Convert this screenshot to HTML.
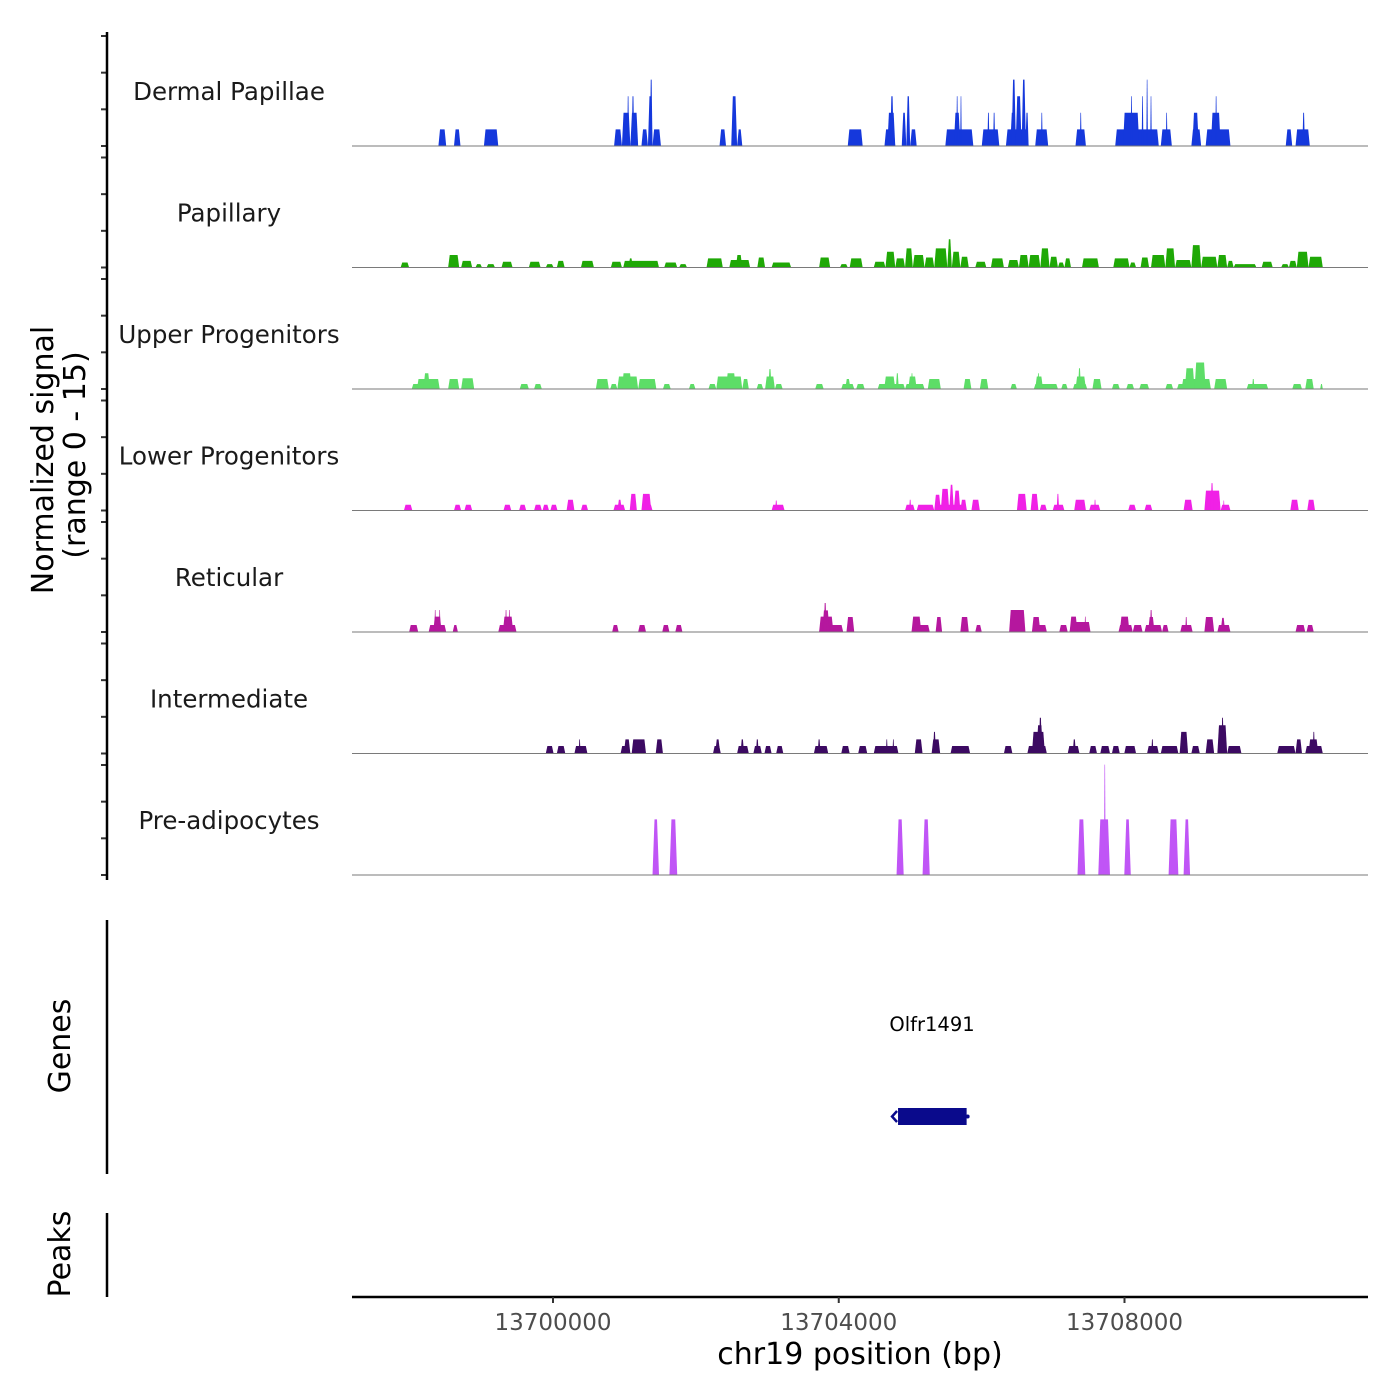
<!DOCTYPE html>
<html><head><meta charset="utf-8"><style>
html,body{margin:0;padding:0;background:#fff;}
svg{display:block;font-family:"DejaVu Sans","Liberation Sans",sans-serif;}
</style></head><body>
<svg id="chart" width="1400" height="1400" viewBox="0 0 1400 1400" xmlns="http://www.w3.org/2000/svg">
<rect x="0" y="0" width="1400" height="1400" fill="#fff"/>
<g id="tracks"></g>
<g id="axes"></g>
<text transform="translate(53,460) rotate(-90)" text-anchor="middle" font-size="30" fill="#000">Normalized signal</text>
<text transform="translate(85,455) rotate(-90)" text-anchor="middle" font-size="30" fill="#000">(range 0 - 15)</text>
<text transform="translate(70,1046) rotate(-90)" text-anchor="middle" font-size="30" fill="#000">Genes</text>
<text transform="translate(70,1254) rotate(-90)" text-anchor="middle" font-size="30" fill="#000">Peaks</text>
<line x1="107" y1="920" x2="107" y2="1174" stroke="#000" stroke-width="2.5"/>
<line x1="107" y1="1213" x2="107" y2="1297" stroke="#000" stroke-width="2.5"/>
<text x="932" y="1031" text-anchor="middle" font-size="19.5" fill="#000">Olfr1491</text>
<g id="gene"></g>
<text x="860" y="1364" text-anchor="middle" font-size="30" fill="#000">chr19 position (bp)</text>
</svg>
<script>
const NS = "http://www.w3.org/2000/svg";
const trackNames = ["Dermal Papillae","Papillary","Upper Progenitors","Lower Progenitors","Reticular","Intermediate","Pre-adipocytes"];
const trackColors = ["#1538dc","#1fa806","#5ddd67","#f021e6","#b5179e","#3c0a62","#c055f6"];
const xTicks = [13700000,13704000,13708000];
const xTickLabels = ["13700000","13704000","13708000"];
const geneStart = 13704830, geneEnd = 13705790;

const dermalPapillae = [[13698396,13698505,2],[13698614,13698705,2],[13699033,13699234,2],
[13700855,13700965,2],[13700965,13701083,4],[13701038,13701065,6],[13701101,13701138,6],[13701083,13701192,4],
[13701238,13701329,2],[13701329,13701393,6],[13701356,13701393,8],[13701393,13701511,2],
[13702331,13702422,2],[13702495,13702577,6],[13702577,13702650,2],
[13704126,13704335,2],[13704640,13704791,2],[13704680,13704791,4],[13704720,13704770,6],
[13704882,13704946,4],[13704946,13705000,6],[13705000,13705091,2],
[13705492,13705884,2],[13705611,13705702,4],[13705645,13705670,6],[13705700,13705722,6],
[13706002,13706248,2],[13706080,13706110,4],[13706160,13706190,4],
[13706340,13706658,2],[13706400,13706476,4],[13706420,13706480,8],[13706476,13706560,6],[13706560,13706620,8],[13706613,13706658,4],
[13706750,13706932,2],[13706830,13706855,4],[13707314,13707460,2],[13707375,13707400,4],
[13707870,13708480,2],[13707979,13708207,4],[13708085,13708110,6],[13708240,13708265,6],[13708305,13708328,8],[13708360,13708382,6],
[13708508,13708663,2],[13708578,13708602,4],[13708936,13709073,2],[13708950,13709040,4],
[13709136,13709483,2],[13709209,13709346,4],[13709270,13709295,6],
[13710257,13710348,2],[13710394,13710594,2],[13710490,13710525,4]];

const papillary = [[13697867,13697986,0.6],[13698532,13698687,1.5],[13698714,13698869,0.8],[13698915,13699006,0.4],[13699070,13699188,0.4],
[13699279,13699434,0.7],[13699662,13699826,0.7],[13699899,13700008,0.4],[13700054,13700163,0.8],[13700391,13700573,0.8],
[13700810,13700965,0.7],[13700983,13701484,0.8],[13701056,13701120,1.1],[13701557,13701739,0.6],[13701766,13701876,0.4],
[13702149,13702377,1.1],[13702468,13702759,0.9],[13702559,13702650,1.5],[13702860,13702969,1.2],[13703060,13703333,0.6],
[13703725,13703880,1.2],[13704017,13704126,0.4],[13704153,13704335,1.1],
[13704490,13704654,0.7],[13704654,13704791,1.9],[13704791,13704928,1.1],[13704928,13705037,2.3],[13705037,13705201,1.5],
[13705201,13705337,1.2],[13705337,13705520,2.3],[13705520,13705583,3.4],[13705583,13705702,1.9],[13705702,13705820,1.3],
[13705911,13706066,0.7],[13706130,13706312,1.1],[13706367,13706522,0.9],[13706522,13706658,1.5],[13706658,13706822,1.5],
[13706822,13706950,2.3],[13706950,13707068,1.3],[13707068,13707159,0.6],[13707159,13707251,1.1],[13707405,13707642,1.1],
[13707843,13708070,1.1],[13708070,13708162,0.6],[13708225,13708344,1.2],[13708371,13708572,1.5],[13708572,13708708,2.3],
[13708708,13708936,0.9],[13708936,13709073,2.7],[13709073,13709300,1.3],[13709300,13709437,1.5],[13709437,13709528,0.8],
[13709528,13709847,0.4],[13709920,13710075,0.7],[13710193,13710302,0.4],[13710302,13710412,0.8],[13710412,13710576,1.9],[13710576,13710776,1.3]];

const upperProgenitors = [[13698022,13698414,0.6],[13698095,13698414,1.2],[13698186,13698277,1.9],[13698532,13698687,1.2],[13698714,13698897,1.3],
[13699534,13699662,0.6],[13699735,13699844,0.6],[13700600,13700782,1.2],[13700801,13700901,0.6],[13700901,13701192,1.5],
[13700965,13701101,1.9],[13701192,13701447,1.2],[13701539,13701648,0.6],[13701903,13701994,0.6],
[13702176,13702286,0.6],[13702286,13702650,1.5],[13702422,13702559,1.9],[13702650,13702741,1.2],[13702850,13702942,0.6],
[13702969,13703106,1.5],[13703014,13703060,2.4],[13703106,13703215,0.6],[13703670,13703789,0.6],
[13704035,13704217,0.6],[13704090,13704165,1.2],[13704244,13704363,0.6],
[13704545,13704928,0.6],[13704636,13704791,1.5],[13704800,13704840,1.9],[13704928,13705201,0.6],[13704973,13705091,1.5],[13705010,13705040,1.9],
[13705246,13705429,1.2],[13705747,13705857,1.2],[13705975,13706094,1.2],[13706403,13706494,0.6],
[13706731,13707068,0.6],[13706750,13706859,1.5],[13706780,13706810,1.9],[13707114,13707205,0.6],
[13707278,13707478,0.6],[13707314,13707460,1.5],[13707350,13707390,2.5],[13707551,13707679,1.2],[13707824,13707934,0.6],
[13708025,13708134,0.6],[13708207,13708344,0.6],[13708572,13708681,0.6],
[13708735,13709209,0.6],[13708799,13709209,1.2],[13708845,13708981,2.5],[13708981,13709136,3.2],
[13709255,13709437,1.2],[13709710,13710011,0.6],[13709785,13709820,1.2],[13710348,13710485,0.6],[13710530,13710649,1.2],[13710739,13710776,0.6]];

const lowerProgenitors = [[13697913,13698031,0.7],[13698614,13698714,0.7],[13698760,13698869,0.7],[13699307,13699416,0.7],[13699525,13699625,0.7],
[13699735,13699844,0.7],[13699853,13699944,0.7],[13699963,13700063,0.7],[13700190,13700300,1.3],[13700391,13700491,0.7],
[13700846,13701010,0.7],[13700901,13700965,1.3],[13701074,13701174,2.0],[13701238,13701393,0.7],[13701238,13701375,2.0],
[13703060,13703242,0.7],[13703110,13703140,1.2],[13704928,13705064,0.7],[13704985,13705015,1.3],[13705091,13705337,0.7],
[13705337,13705793,0.7],[13705337,13705429,1.9],[13705429,13705547,2.6],[13705547,13705611,3.1],[13705611,13705702,2.4],[13705702,13705793,1.3],
[13705857,13705975,1.3],[13706494,13706631,2.0],[13706686,13706795,2.0],[13706813,13706913,0.7],
[13706995,13707159,0.7],[13707050,13707085,2.0],[13707296,13707460,1.3],[13707506,13707661,0.7],[13707575,13707600,1.3],
[13708052,13708162,0.7],[13708280,13708389,0.7],[13708827,13708954,1.3],
[13709118,13709346,2.4],[13709205,13709245,3.3],[13709346,13709483,0.7],[13709380,13709400,1.2],
[13710321,13710439,1.3],[13710558,13710667,1.3]];

const reticular = [[13697986,13698113,0.85],[13698259,13698505,0.85],[13698323,13698441,1.85],[13698340,13698362,2.65],[13698403,13698425,2.65],
[13698596,13698669,0.85],[13699234,13699489,0.85],[13699298,13699443,1.85],[13699330,13699355,2.65],[13699378,13699400,2.65],
[13700828,13700919,0.85],[13701192,13701302,0.85],[13701529,13701630,0.85],[13701712,13701812,0.85],
[13703725,13704062,0.85],[13703725,13703925,1.85],[13703770,13703870,2.6],[13703790,13703830,3.5],[13704108,13704217,1.8],
[13705019,13705274,0.85],[13705019,13705155,1.85],[13705356,13705447,1.8],[13705702,13705820,1.8],[13705911,13706002,0.85],
[13706385,13706613,2.65],[13706704,13706913,0.85],[13706704,13706822,1.8],[13707087,13707205,0.85],
[13707232,13707524,1.2],[13707232,13707342,1.85],[13707440,13707462,1.85],
[13707916,13708116,0.85],[13707934,13708070,1.85],[13708116,13708253,0.85],[13708280,13708526,0.85],[13708330,13708420,1.8],[13708355,13708390,2.65],
[13708526,13708617,0.85],[13708781,13708954,0.85],[13708850,13708878,1.8],[13709118,13709255,1.8],
[13709300,13709483,0.85],[13709346,13709410,1.7],[13710394,13710530,0.85],[13710548,13710649,0.85]];

const intermediate = [[13699899,13700008,0.9],[13700054,13700172,0.9],[13700300,13700482,0.9],[13700360,13700385,1.7],
[13700946,13701083,0.9],[13700992,13701083,1.7],[13701101,13701302,1.7],[13701438,13701539,1.7],
[13702240,13702349,0.9],[13702270,13702340,1.7],[13702577,13702741,0.9],[13702625,13702675,1.7],
[13702805,13702923,0.9],[13702840,13702880,1.7],[13702960,13703060,0.9],[13703124,13703224,0.9],
[13703652,13703853,0.9],[13703705,13703745,1.7],[13704035,13704153,0.9],[13704272,13704399,0.9],
[13704490,13704836,0.9],[13704660,13704685,1.7],[13704752,13704776,1.7],[13705064,13705173,1.7],
[13705300,13705420,1.7],[13705320,13705360,2.6],[13705565,13705839,0.9],[13706312,13706431,0.9],
[13706640,13706913,0.9],[13706704,13706886,2.6],[13706768,13706859,3.4],[13706800,13706845,4.3],
[13707205,13707369,0.9],[13707275,13707320,1.7],[13707506,13707615,0.9],[13707661,13707797,0.9],[13707824,13707934,0.9],
[13707997,13708162,0.9],[13708316,13708480,0.9],[13708375,13708405,1.7],[13708508,13708754,0.9],[13708772,13708890,2.6],
[13708936,13709054,0.9],[13709136,13709255,1.7],[13709300,13709437,3.4],[13709355,13709390,4.3],[13709437,13709637,0.9],
[13710138,13710394,0.9],[13710394,13710485,1.7],[13710530,13710776,0.9],[13710576,13710712,1.7],[13710635,13710665,2.6]];

const preAdipocytes = [[13701393,13701484,6.7],[13701630,13701739,6.7],[13704809,13704909,6.7],[13705173,13705274,6.7],
[13707342,13707451,6.7],[13707633,13707797,6.7],[13707712,13707736,13.3],[13707997,13708088,6.7],[13708617,13708754,6.7],[13708827,13708918,6.7]];

const trackData = [dermalPapillae,papillary,upperProgenitors,lowerProgenitors,reticular,intermediate,preAdipocytes];

const PLOT_L = 352, PLOT_R = 1368;
function xScale(bp){ return 553 + (bp - 13700000) * 285.75 / 4000; }
const BASE0 = 146, TRACK_H = 121.5, PX_PER_UNIT = 8.3, TICK_SP = 36.67;
function yScale(track, v){ return BASE0 + track*TRACK_H - v*PX_PER_UNIT; }

const tracksG = document.getElementById('tracks');
const axesG = document.getElementById('axes');
function mk(tag, attrs, parent){ const e=document.createElementNS(NS,tag); for(const k in attrs) e.setAttribute(k,attrs[k]); parent.appendChild(e); return e; }

trackData.forEach((peaks, t) => {
  const g = mk('g', {}, tracksG);
  
  
  const base = yScale(t, 0);
  const sl = t === 6 ? 2 : 1.6;
  peaks.forEach(p => {
    const x1 = xScale(p[0]), x2 = xScale(p[1]), yt = yScale(t, p[2]);
    const s = Math.min(sl, (x2-x1)/3);
    const poly = mk('polygon', {points: `${x1},${base} ${x1+s},${yt} ${x2-s},${yt} ${x2},${base}`, fill: trackColors[t]}, g);
    
    
  });
  const bl = mk('line', {x1: PLOT_L, x2: PLOT_R, y1: base, y2: base, stroke: '#7a7a7a', 'stroke-width': 1}, g);
  
  
  const lab = mk('text', {x: 229, y: base - 46, 'text-anchor': 'middle', 'font-size': 24.5, fill: '#1a1a1a'}, g);
  lab.textContent = trackNames[t];
  
  
  for (let j = 0; j < 4; j++) {
    const y = base - j*TICK_SP;
    const tk = mk('line', {x1: 101, x2: 107, y1: y, y2: y, stroke: '#333', 'stroke-width': 2}, axesG);
    
    
  }
});
const yAxis = mk('line', {x1: 107, x2: 107, y1: 32, y2: 880, stroke: '#000', 'stroke-width': 2.5}, axesG);


const xAxis = mk('line', {x1: PLOT_L, x2: PLOT_R, y1: 1297, y2: 1297, stroke: '#000', 'stroke-width': 2.5}, axesG);


xTicks.forEach((v, i) => {
  const x = xScale(v);
  const tk = mk('line', {x1: x, x2: x, y1: 1297, y2: 1303, stroke: '#333', 'stroke-width': 2}, axesG);
  
  
  const tl = mk('text', {x: x, y: 1330, 'text-anchor': 'middle', 'font-size': 23, fill: '#4d4d4d'}, axesG);
  tl.textContent = xTickLabels[i];
  
  
});
const gG = document.getElementById('gene');
const gx1 = xScale(geneStart), gx2 = xScale(geneEnd);
const gr = mk('rect', {x: gx1, y: 1108, width: gx2-gx1, height: 17, fill: '#0a0a8c'}, gG);


const ga = mk('path', {d: `M${gx1-1},1111 L${gx1-6},1116.5 L${gx1-1},1122`, stroke: '#0a0a8c', 'stroke-width': 2.5, fill: 'none'}, gG);


const gd = mk('circle', {cx: gx2+1, cy: 1116.5, r: 2, fill: '#0a0a8c'}, gG);


</script>
</body></html>
